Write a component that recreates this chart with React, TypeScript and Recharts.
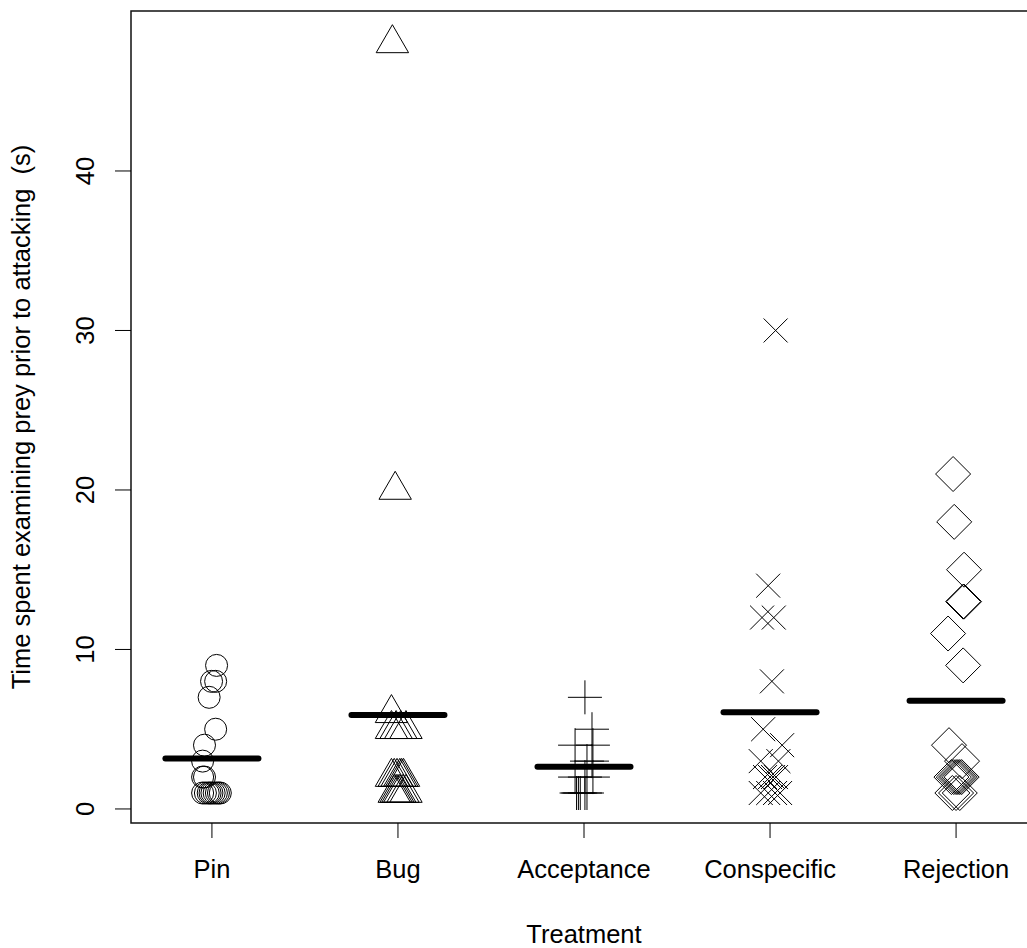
import React from "react";
import {
  ScatterChart,
  Scatter,
  XAxis,
  YAxis,
  ReferenceLine,
  ReferenceArea,
  Label,
} from "recharts";

const categories = ["Pin", "Bug", "Acceptance", "Conspecific", "Rejection"];
const yTicks = [0, 10, 20, 30, 40];

// values (s) and horizontal jitter (in category units)
const pinY = [9, 8, 8, 7, 5, 4, 3, 2, 2, 1, 1, 1, 1, 1, 1, 1, 1, 1];
const pinJ = [0.025, -0.002, 0.02, -0.015, 0.02, -0.04, -0.05, -0.05, -0.04, -0.05, -0.035, -0.02, -0.01, 0, 0.012, 0.024, 0.035, 0.045];

const bugY = [48, 20, 6, 5, 5, 5, 5, 2, 2, 2, 2, 2, 2, 1, 1, 1, 1, 1, 1];
const bugJ = [-0.03, -0.015, -0.035, -0.035, -0.01, 0.015, 0.043, -0.035, -0.02, -0.005, 0.01, 0.02, 0.03, -0.02, -0.01, 0, 0.01, 0.027, 0.043];

const accY = [7, 5, 4, 4, 3, 3, 2, 2, 2, 1, 1, 1, 1, 1];
const accJ = [0.005, 0.043, -0.048, 0.048, 0.016, 0.043, -0.048, 0.048, 0.005, -0.03, -0.02, 0.005, 0.016, -0.04];

const conY = [30, 14, 12, 12, 8, 5, 4, 3, 3, 2, 2, 2, 2, 1, 1, 1, 1];
const conJ = [0.03, -0.01, -0.043, 0.02, 0.01, -0.037, 0.065, -0.05, 0.045, -0.027, 0, 0.016, 0.032, -0.05, -0.01, 0.027, 0.054];

const rejY = [21, 18, 15, 13, 13, 11, 9, 4, 3, 2, 2, 2, 2, 2, 2, 1, 1, 1];
const rejJ = [-0.016, -0.01, 0.043, 0.038, 0.043, -0.043, 0.038, -0.038, 0.032, -0.025, -0.012, 0, 0.01, 0.02, 0.03, -0.02, 0, 0.02];

const groups = [
  { y: pinY, j: pinJ },
  { y: bugY, j: bugJ },
  { y: accY, j: accJ },
  { y: conY, j: conJ },
  { y: rejY, j: rejJ },
];

const toData = (i: number) =>
  groups[i].y.map((v, k) => ({ x: i + 1 + groups[i].j[k], y: v }));

const means = groups.map((g) => g.y.reduce((a, b) => a + b, 0) / g.y.length);

const FONT = "'Liberation Sans', Arial, sans-serif";
const INK = "#000";

const Circle = (p: any) => (
  <circle cx={p.cx} cy={p.cy} r={11} fill="none" stroke={INK} strokeWidth={1} />
);
const Triangle = (p: any) => (
  <polygon
    points={`${p.cx},${p.cy - 18.7} ${p.cx + 16.2},${p.cy + 9.3} ${p.cx - 16.2},${p.cy + 9.3}`}
    fill="none"
    stroke={INK}
    strokeWidth={1}
  />
);
const Plus = (p: any) => (
  <path
    d={`M${p.cx - 17},${p.cy}H${p.cx + 17}M${p.cx},${p.cy - 17}V${p.cy + 17}`}
    stroke={INK}
    strokeWidth={1}
  />
);
const Cross = (p: any) => (
  <path
    d={`M${p.cx - 12},${p.cy - 12}L${p.cx + 12},${p.cy + 12}M${p.cx - 12},${p.cy + 12}L${p.cx + 12},${p.cy - 12}`}
    stroke={INK}
    strokeWidth={1}
  />
);
const Diamond = (p: any) => (
  <polygon
    points={`${p.cx},${p.cy - 17.5} ${p.cx + 17.5},${p.cy} ${p.cx},${p.cy + 17.5} ${p.cx - 17.5},${p.cy}`}
    fill="none"
    stroke={INK}
    strokeWidth={1}
  />
);
const shapes = [Circle, Triangle, Plus, Cross, Diamond];

const XTick = (p: any) => (
  <text x={p.x} y={p.y + 38} textAnchor="middle" fontSize={25.5} fontFamily={FONT} fill="#000">
    {categories[p.payload.value - 1]}
  </text>
);

const YTick = (p: any) => (
  <text
    x={85}
    y={p.y}
    dy="0.36em"
    transform={`rotate(-90 85 ${p.y})`}
    textAnchor="middle"
    fontSize={25.5}
    fontFamily={FONT}
    fill="#000"
  >
    {p.payload.value}
  </text>
);

export default function App() {
  return (
    <div
      style={{
        position: "absolute",
        left: 0,
        top: 0,
        width: 1027,
        height: 948,
        overflow: "hidden",
        background: "#fff",
      }}
    >
      <ScatterChart width={1040} height={948} margin={{ top: 11, right: 3, bottom: 0, left: 0 }}>
        <XAxis
          type="number"
          dataKey="x"
          domain={[0.565, 5.435]}
          ticks={[1, 2, 3, 4, 5]}
          allowDataOverflow
          height={125}
          tickSize={15}
          axisLine={false}
          tickLine={{ stroke: "#000" }}
          tick={<XTick />}
          interval={0}
        >
          <Label
            content={() => (
              <text x={584} y={943} textAnchor="middle" fontSize={25.5} fontFamily={FONT} fill="#000">
                Treatment
              </text>
            )}
          />
        </XAxis>
        <YAxis
          type="number"
          dataKey="y"
          domain={[-0.88, 50.03]}
          ticks={yTicks}
          allowDataOverflow
          width={131}
          tickSize={16}
          axisLine={false}
          tickLine={{ stroke: "#000" }}
          tick={<YTick />}
          interval={0}
        >
          <Label
            content={() => (
              <text
                x={30}
                y={417}
                transform="rotate(-90 30 417)"
                textAnchor="middle"
                fontSize={25.5}
                fontFamily={FONT}
                fill="#000"
                style={{ whiteSpace: "pre" }}
              >
                {"Time spent examining prey prior to attacking  (s)"}
              </text>
            )}
          />
        </YAxis>
        <ReferenceArea
          x1={0.565}
          x2={5.435}
          y1={-0.88}
          y2={50.03}
          fill="none"
          fillOpacity={0}
          stroke="#111"
          strokeWidth={1.5}
          ifOverflow="visible"
        />
        {categories.map((c, i) => (
          <Scatter
            key={c}
            name={c}
            data={toData(i)}
            shape={shapes[i]}
            isAnimationActive={false}
          />
        ))}
        {means.map((m, i) => (
          <ReferenceLine
            key={i}
            segment={[
              { x: i + 1 - 0.25, y: m },
              { x: i + 1 + 0.25, y: m },
            ]}
            stroke="#000"
            strokeWidth={6}
            strokeLinecap="round"
            ifOverflow="visible"
          />
        ))}
      </ScatterChart>
    </div>
  );
}
